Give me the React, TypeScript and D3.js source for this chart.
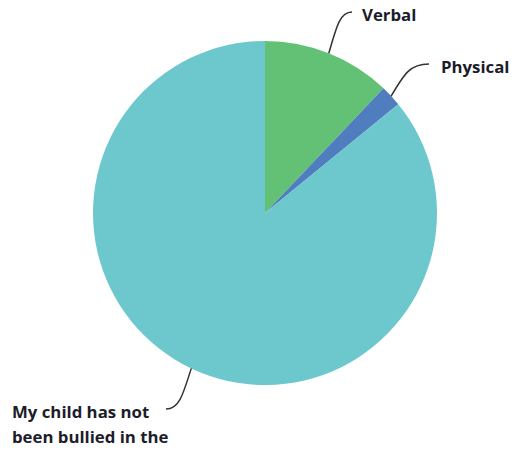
import React, { useEffect, useRef } from 'react';
import * as d3 from 'd3';

const categories = ['Verbal', 'Physical', 'My child has not been bullied in the'];
const values = [12.1, 2.0, 85.9];
const colors = ['#63c175', '#4f7dbd', '#6cc8cc'];

const App: React.FC = () => {
  const ref = useRef<SVGSVGElement>(null);

  useEffect(() => {
    if (!ref.current) return;
    const width = 515;
    const height = 452;
    const cx = 265;
    const cy = 213;
    const radius = 172;

    const svg = d3.select(ref.current);
    svg.selectAll('*').remove();

    const g = svg.append('g').attr('transform', `translate(${cx},${cy})`);

    const pie = d3.pie<number>().sort(null).value(d => d);
    const arcs = pie(values);
    const arc = d3.arc<d3.PieArcDatum<number>>().innerRadius(0).outerRadius(radius);

    g.selectAll('path.slice')
      .data(arcs)
      .join('path')
      .attr('class', 'slice')
      .attr('d', arc)
      .attr('fill', (_, i) => colors[i]);

    // leader lines start on the rim at mid angle
    const rim = (d: d3.PieArcDatum<number>) => {
      const a = (d.startAngle + d.endAngle) / 2;
      return [Math.sin(a) * radius, -Math.cos(a) * radius];
    };

    const labels = [
      { lines: ['Verbal'], tx: 362, ty: 21, end: [352 - cx, 12 - cy] },
      { lines: ['Physical'], tx: 441, ty: 73, end: [429 - cx, 64 - cy] },
      { lines: ['My child has not', 'been bullied in the'], tx: 12, ty: 418, end: [166 - cx, 409 - cy] }
    ];

    arcs.forEach((d, i) => {
      const [sx, sy] = rim(d);
      const [ex, ey] = labels[i].end;
      const p = d3.path();
      p.moveTo(sx, sy);
      // go mostly along the radial direction, then hook into the label
      p.bezierCurveTo(sx + (ex - sx) * 0.35, sy + (ey - sy) * 0.7, sx + (ex - sx) * 0.5, ey, ex, ey);
      g.append('path')
        .attr('d', p.toString())
        .attr('fill', 'none')
        .attr('stroke', '#333')
        .attr('stroke-width', 1.5);
    });

    labels.forEach(l => {
      const t = svg.append('text')
        .attr('x', l.tx)
        .attr('y', l.ty)
        .attr('font-family', '"Open Sans", sans-serif')
        .attr('font-weight', 700)
        .attr('font-size', 16.8)
        .attr('fill', '#1c1c2b');
      l.lines.forEach((line, j) => {
        t.append('tspan').attr('x', l.tx).attr('dy', j === 0 ? 0 : 25).text(line);
      });
    });

    svg.attr('width', width).attr('height', height);
  }, []);

  return (
    <svg ref={ref} width={515} height={452} style={{ position: 'absolute', left: 0, top: 0, background: '#fff' }} />
  );
};

export default App;
